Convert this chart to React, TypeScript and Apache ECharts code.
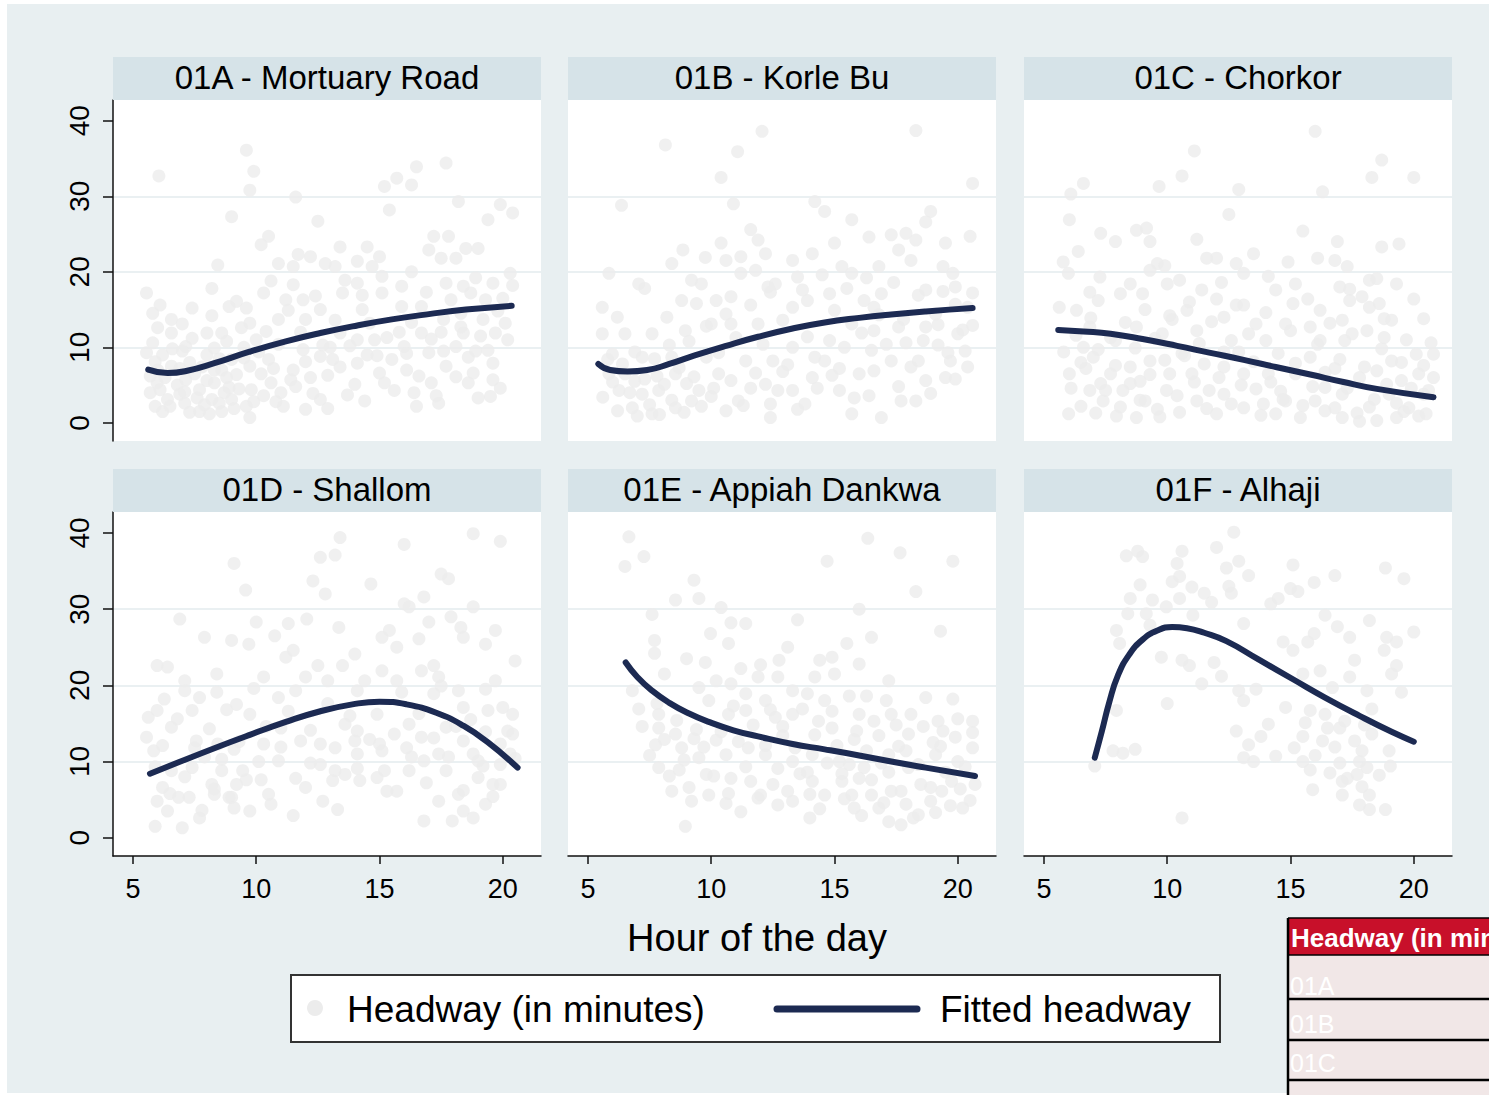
import React, { useEffect, useRef } from "react";
import * as echarts from "echarts";

const panelTitles = [
  "01A - Mortuary Road",
  "01B - Korle Bu",
  "01C - Chorkor",
  "01D - Shallom",
  "01E - Appiah Dankwa",
  "01F - Alhaji",
];
const xTicks = [5, 10, 15, 20];
const yTicks = [0, 10, 20, 30, 40];
const xAxisTitle = "Hour of the day";
const legendScatter = "Headway (in minutes)";
const legendLine = "Fitted headway";
const tableHeader = "Headway (in minutes)";
const tableRows = ["01A", "01B", "01C"];

const scatterA = [[6.05,32.7],[9.6,36.1],[9.9,33.3],[9.74,30.8],[9.0,27.3],[11.6,29.9],[12.5,26.7],[15.2,31.3],[15.7,32.4],[16.3,31.5],[16.5,33.9],[17.7,34.4],[15.4,28.2],[18.2,29.3],[19.4,26.9],[19.9,28.9],[20.4,27.8],[17.2,24.7],[17.8,24.7],[17.0,22.9],[17.5,21.8],[18.1,21.8],[18.5,23.1],[19.0,23.1],[20.3,19.8],[16.3,20.0],[13.4,23.3],[14.5,23.3],[15.0,22.0],[10.2,23.6],[10.5,24.7],[8.44,20.9],[8.2,17.8],[5.55,17.2],[6.1,15.6],[5.8,14.5],[6.56,13.7],[7.4,15.2],[8.9,15.4],[9.2,16.1],[10.9,21.1],[11.5,20.7],[12.2,22.0],[12.8,21.1],[13.2,20.7],[14.1,21.4],[14.7,20.7],[15.9,18.1],[17.7,18.5],[18.4,18.1],[19.6,18.5],[11.5,18.3],[11.9,16.3],[13.5,17.2],[14.1,18.5],[15.1,17.2],[16.7,15.4],[18.7,17.2],[19.3,16.3],[20.1,13.2],[19.7,11.9],[19.6,7.9],[19.6,5.7],[19.5,3.5],[19.0,3.3],[18.6,5.3],[17.4,2.6],[16.5,2.2],[15.2,5.3],[13.7,3.7],[12.6,3.1],[11.6,4.8],[11.0,4.0],[9.74,0.7],[8.6,1.5],[7.7,1.5],[6.2,1.5],[5.7,4.0],[5.55,9.3],[5.8,10.6],[6.56,11.9],[8.0,11.9],[8.6,11.9],[7.14,10.1],[7.7,4.4],[8.3,5.3],[9.0,3.1],[9.74,7.5],[10.5,8.4],[10.6,5.3],[11.9,9.7],[12.6,8.8],[13.1,8.4],[14.1,7.9],[14.8,11.0],[15.5,8.4],[16.1,7.0],[17.0,9.3],[17.7,7.5],[18.1,10.1],[18.4,11.9],[19.1,11.5],[18.8,6.6],[17.1,5.3],[16.4,4.0],[14.1,11.0],[13.4,11.9],[12.0,13.7],[10.9,13.7],[9.74,13.2],[10.0,11.0],[9.0,8.4],[8.3,7.0],[7.14,5.7],[6.4,3.1],[7.1,2.6],[8.2,3.1],[5.98,5.3],[6.56,7.5],[15.0,6.6],[16.0,10.1],[16.7,11.9],[17.6,13.7],[18.3,14.5],[14.3,15.0],[12.6,15.0],[11.2,16.3],[10.3,17.2],[6.8,5.0],[7.5,6.5],[8.8,6.0],[9.3,4.5],[6.2,9.0],[7.0,9.5],[8.0,9.0],[9.5,10.0],[10.2,6.5],[11.5,7.0],[12.2,6.0],[13.0,10.0],[14.5,9.0],[15.8,12.0],[17.5,12.0],[18.9,9.5],[20.0,16.5],[6.0,7.0],[6.9,3.8],[7.9,2.4],[8.7,4.0],[9.6,2.2],[5.9,2.2],[7.3,8.0],[8.5,8.5],[10.8,2.8],[12.0,1.8],
[5.7,6.2],[5.9,8.1],[6.1,4.4],[6.3,6.0],[6.5,2.2],[6.6,9.8],[6.9,7.2],[7.1,4.1],[7.3,1.4],[7.4,11.2],[7.6,3.3],[7.8,7.4],[8.0,5.6],[8.1,1.2],[8.3,9.9],[8.5,2.6],[8.6,7.0],[8.8,10.8],[8.9,4.7],[9.1,1.9],[9.2,6.4],[9.4,12.6],[9.5,8.6],[9.8,4.4],[9.9,2.8],[10.1,9.4],[10.3,3.6],[10.4,12.1],[10.7,7.2],[10.9,10.4],[11.1,2.2],[11.3,14.9],[11.4,5.7],[11.8,12.0],[12.0,8.1],[12.3,3.9],[12.4,16.8],[12.7,10.3],[12.9,6.3],[13.2,13.6],[13.4,7.4],[13.6,18.9],[13.8,10.2],[14.0,5.1],[14.3,16.9],[14.6,13.2],[14.9,8.9],[15.1,19.4],[15.3,11.3],[15.6,4.3],[15.9,15.4],[16.1,9.2],[16.3,13.3],[16.6,6.2],[16.9,17.3],[17.1,11.1],[17.3,3.6],[17.6,9.5],[17.9,16.3],[18.1,6.1],[18.3,12.7],[18.6,8.7],[18.9,19.2],[19.2,13.7],[19.4,9.6],[19.8,14.8],[20.2,11.0],[20.4,18.2],[19.9,4.6],[14.4,2.9],[12.9,1.9],[6.0,12.6],[7.0,13.1],[8.2,14.2],[9.6,15.2],[10.6,18.8],[11.7,22.3]];

const scatterB = [[12.06,38.6],[18.3,38.7],[8.14,36.8],[11.07,35.9],[10.4,32.5],[20.6,31.7],[6.36,28.8],[10.9,29.0],[14.2,29.3],[14.6,28.0],[15.7,26.9],[18.9,28.0],[18.7,26.6],[11.6,25.6],[15.0,23.8],[16.4,24.6],[17.3,24.9],[17.9,25.1],[18.3,24.2],[19.5,23.8],[20.5,24.7],[11.9,24.2],[10.4,23.8],[8.85,22.9],[9.76,21.9],[10.6,21.5],[11.2,22.0],[12.2,22.4],[13.3,21.5],[14.1,22.4],[8.4,21.1],[5.85,19.8],[7.06,18.4],[7.3,17.8],[9.2,18.9],[9.6,18.4],[11.2,19.8],[11.8,20.2],[12.6,18.4],[13.5,19.3],[15.3,20.7],[15.7,19.8],[16.8,20.7],[17.6,22.9],[18.1,21.5],[19.4,20.7],[19.8,19.8],[19.9,18.0],[18.7,17.6],[16.9,17.1],[16.2,16.2],[14.8,17.1],[13.9,16.2],[12.3,18.0],[8.8,16.2],[9.4,15.8],[10.2,16.2],[10.8,16.7],[5.58,15.3],[6.19,14.0],[8.2,14.0],[5.58,11.8],[6.5,11.8],[7.6,11.8],[8.95,12.2],[10.0,13.1],[10.8,13.1],[11.9,13.1],[13.3,15.3],[15.7,13.1],[16.6,12.2],[17.6,12.7],[18.7,12.7],[20.6,12.9],[20.0,11.8],[5.99,9.1],[5.85,6.5],[6.26,4.3],[6.8,2.0],[7.6,1.2],[8.55,2.0],[9.2,2.9],[10.6,1.6],[11.1,2.9],[12.4,0.7],[12.4,2.5],[12.2,5.1],[13.3,4.3],[13.8,2.5],[14.1,6.0],[14.2,8.7],[15.2,4.3],[15.7,1.2],[16.0,6.5],[16.9,0.7],[17.7,2.9],[18.3,2.9],[18.7,5.6],[19.5,6.0],[19.9,5.8],[19.7,8.2],[18.4,8.2],[17.3,8.2],[16.5,9.6],[15.4,10.0],[14.6,8.2],[13.3,10.0],[12.5,8.2],[11.4,8.2],[10.3,6.5],[9.5,4.3],[8.55,6.5],[7.87,4.3],[7.2,3.8],[6.5,6.5],[9.8,8.7],[8.4,8.7],[7.2,8.7],[19.1,14.4],[20.4,15.3],[16.6,15.3],[6.9,5.5],[7.8,6.2],[9.0,5.2],[10.0,3.5],[11.6,4.6],[12.9,6.8],[14.9,6.3],[16.4,3.6],[17.9,10.6],[19.2,10.3],[20.3,9.5],
[5.6,3.4],[5.8,8.4],[6.0,5.4],[6.2,1.6],[6.4,7.8],[6.7,4.0],[6.9,9.4],[7.0,0.9],[7.3,5.8],[7.5,2.4],[7.7,8.5],[7.9,1.1],[8.1,5.1],[8.3,10.3],[8.4,3.0],[8.7,7.3],[8.9,1.4],[9.1,10.8],[9.3,6.1],[9.6,2.2],[9.8,12.8],[10.1,4.6],[10.3,9.3],[10.6,14.4],[10.8,5.6],[11.0,11.3],[11.3,2.3],[11.6,15.6],[11.8,6.6],[12.1,10.4],[12.4,17.3],[12.7,4.3],[12.9,13.6],[13.1,7.7],[13.5,1.8],[13.7,17.6],[13.9,11.4],[14.3,4.6],[14.5,19.6],[14.8,10.9],[15.0,14.9],[15.2,7.2],[15.5,17.8],[15.8,3.3],[16.1,11.9],[16.3,19.2],[16.6,6.9],[16.8,14.3],[17.1,10.4],[17.4,18.6],[17.6,4.8],[17.8,13.7],[18.1,7.4],[18.4,16.9],[18.6,10.9],[18.9,3.9],[19.2,13.0],[19.4,17.4],[19.6,9.3],[19.9,15.7],[20.2,12.3],[20.4,7.4],[20.6,17.2]];

const scatterC = [[16.0,38.6],[11.1,36.0],[18.7,34.8],[18.3,32.5],[20.0,32.5],[10.6,32.7],[9.67,31.3],[12.9,30.9],[16.3,30.6],[6.09,30.3],[6.6,31.7],[6.03,26.9],[12.5,27.6],[15.5,25.4],[11.2,24.3],[7.3,25.1],[7.9,24.0],[8.75,25.5],[9.16,25.8],[9.3,24.0],[6.39,22.7],[5.78,21.3],[5.99,19.8],[7.27,19.3],[9.3,20.2],[9.6,21.1],[11.6,21.8],[12.0,21.8],[12.8,21.1],[13.1,19.8],[13.5,22.4],[14.9,21.3],[16.1,21.8],[16.9,24.0],[16.8,21.5],[17.3,20.7],[18.7,23.3],[19.4,23.7],[18.2,18.9],[18.5,19.1],[19.3,18.4],[17.0,18.0],[6.86,17.3],[8.1,17.1],[8.5,18.4],[9.0,17.1],[10.0,18.4],[10.5,18.9],[11.4,17.6],[5.62,15.3],[6.32,14.9],[7.2,16.2],[10.1,14.2],[10.8,14.9],[12.0,16.4],[13.1,15.6],[14.4,17.6],[15.1,15.8],[15.2,18.4],[16.2,14.9],[17.4,16.2],[17.9,16.7],[18.6,15.8],[20.0,16.4],[20.4,13.8],[18.8,13.8],[18.1,12.2],[17.1,13.6],[15.8,12.7],[14.8,13.1],[13.6,13.1],[12.3,14.0],[11.2,12.2],[8.75,12.7],[6.86,12.7],[6.03,6.5],[6.0,1.2],[6.86,4.3],[7.94,0.9],[8.75,0.7],[9.1,2.9],[9.6,1.8],[10.5,1.4],[11.2,2.9],[12.0,1.2],[12.3,3.8],[13.1,2.0],[13.6,4.5],[14.4,1.2],[14.8,2.9],[15.4,0.7],[16.4,1.6],[17.1,0.7],[17.8,0.2],[18.5,0.3],[19.3,0.7],[19.8,2.0],[20.4,3.8],[20.8,6.0],[20.2,6.5],[20.1,9.1],[20.8,9.1],[19.1,8.2],[18.5,6.9],[17.8,6.0],[17.1,3.8],[16.4,4.7],[15.8,8.7],[15.2,6.5],[14.1,6.5],[13.1,6.5],[12.3,7.4],[11.5,7.8],[11.0,6.5],[10.1,6.5],[9.3,8.2],[8.5,7.4],[7.7,6.5],[7.0,8.7],[6.6,10.0],[7.4,2.9],[8.2,4.3],[9.97,4.3],[11.7,4.3],[13.9,2.5],[16.0,2.9],[19.0,3.8],[19.5,5.6],[17.2,10.9],[16.2,10.9],[18.8,11.3],[14.0,10.9],[12.6,10.9],[9.8,11.8],[7.9,10.9],[6.5,8.0],[7.3,5.2],[8.9,5.5],[10.7,8.9],[12.9,9.4],[14.6,4.2],[16.8,7.2],[18.2,2.1],[19.6,1.5],[20.5,1.2],
[5.8,9.4],[6.1,4.6],[6.3,11.6],[6.5,2.2],[6.7,7.2],[6.9,13.9],[7.1,1.3],[7.2,9.7],[7.5,4.3],[7.7,11.3],[7.9,7.6],[8.1,2.1],[8.3,13.3],[8.5,5.2],[8.7,9.9],[8.9,3.0],[9.1,15.0],[9.3,6.4],[9.5,11.2],[9.7,0.8],[9.9,8.3],[10.2,13.7],[10.4,3.6],[10.6,9.2],[10.9,16.0],[11.1,5.4],[11.3,10.5],[11.6,1.9],[11.8,13.4],[12.1,6.0],[12.3,9.4],[12.6,2.5],[12.8,15.6],[13.0,5.0],[13.3,11.8],[13.5,8.1],[13.8,1.0],[14.0,14.6],[14.2,5.4],[14.5,9.2],[14.7,3.1],[15.0,12.2],[15.2,7.9],[15.5,2.3],[15.7,16.4],[15.9,4.8],[16.1,10.4],[16.4,6.7],[16.6,13.2],[16.8,2.0],[17.0,8.4],[17.3,4.6],[17.5,11.8],[17.7,1.3],[18.0,7.4],[18.2,15.3],[18.4,3.1],[18.7,9.8],[18.9,5.1],[19.1,13.6],[19.3,2.6],[19.5,8.0],[19.7,11.0],[19.9,4.6],[20.2,0.9],[20.4,7.6],[20.6,4.3],[20.7,10.6],[17.4,17.7],[12.2,18.6],[9.9,20.8],[14.1,19.4]];

const scatterD = [[13.4,39.4],[18.8,39.9],[19.9,38.9],[16.0,38.5],[12.6,36.8],[13.2,37.1],[9.1,36.0],[9.57,32.5],[12.3,33.7],[14.65,33.3],[12.8,32.0],[17.5,34.6],[17.8,34.0],[16.8,31.6],[16.0,30.7],[16.2,30.3],[18.8,30.3],[6.9,28.7],[10.0,28.3],[17.0,28.3],[17.9,29.0],[18.3,27.6],[13.35,27.6],[11.3,28.1],[12.05,28.7],[7.9,26.3],[9.0,25.9],[9.7,25.4],[10.75,26.5],[15.4,27.2],[15.1,26.3],[15.7,25.0],[16.6,26.1],[18.4,26.3],[19.3,25.4],[19.7,27.2],[14.0,24.1],[11.5,24.6],[5.98,22.6],[6.4,22.4],[7.1,20.6],[8.4,21.5],[10.3,21.1],[11.2,23.7],[12.5,22.6],[12.9,20.6],[15.1,21.9],[15.7,20.6],[16.7,21.9],[17.4,21.1],[17.2,22.6],[18.2,19.3],[19.7,20.6],[20.5,23.2],[19.3,19.5],[6.27,18.2],[7.1,19.3],[7.7,18.4],[8.4,19.1],[9.2,17.5],[10.9,18.4],[11.6,19.3],[14.1,19.3],[17.2,18.9],[18.4,17.1],[19.4,16.7],[20.0,17.1],[20.4,16.2],[5.62,15.8],[5.98,16.7],[7.4,16.7],[9.74,16.2],[13.6,14.9],[14.1,14.0],[16.2,14.9],[17.7,14.5],[20.4,13.6],[5.55,13.2],[6.56,14.5],[7.57,12.7],[8.44,12.3],[10.3,12.3],[11.8,12.7],[12.6,12.3],[14.0,12.7],[15.0,12.3],[16.1,11.8],[16.7,13.2],[18.4,12.7],[19.9,12.3],[5.84,11.4],[10.9,10.1],[14.1,11.0],[15.1,11.4],[17.4,11.0],[18.8,11.0],[6.56,8.8],[7.4,9.2],[8.6,8.8],[9.45,8.8],[13.2,8.8],[13.6,8.3],[15.2,8.8],[16.2,8.8],[17.7,8.8],[14.2,7.5],[14.9,7.9],[19.0,7.9],[13.1,7.5],[19.9,7.0],[5.98,4.8],[6.4,3.5],[6.85,5.3],[7.28,5.3],[7.7,2.6],[8.3,5.7],[9.0,5.3],[9.74,3.5],[10.5,5.7],[12.0,6.6],[12.7,4.8],[13.3,3.7],[11.5,2.9],[15.7,6.1],[16.8,2.2],[17.4,4.8],[17.95,2.2],[18.2,5.7],[18.4,3.5],[18.8,2.6],[19.6,7.0],[19.3,4.4],[5.9,1.5],[7.0,1.3],[8.9,5.3],[8.2,7.0],[9.2,7.0],[6.2,6.6],[7.9,10.6],[9.1,11.6],[10.2,7.6],[11.0,14.4],[12.2,9.8],[16.8,10.1],[19.2,9.4],[20.3,11.0],
[5.9,9.3],[6.2,12.1],[6.5,5.8],[6.8,15.6],[7.1,8.0],[7.5,11.8],[7.8,3.6],[8.1,14.3],[8.3,6.4],[8.6,10.3],[8.8,16.8],[9.1,3.9],[9.3,12.6],[9.6,7.6],[9.9,19.6],[10.1,10.0],[10.4,14.6],[10.6,4.4],[11.0,11.9],[11.3,16.6],[11.6,7.8],[12.0,21.1],[12.2,14.1],[12.6,9.6],[12.9,17.6],[13.2,11.8],[13.5,22.6],[13.8,16.0],[14.1,9.1],[14.4,20.6],[14.6,12.9],[14.9,16.2],[15.3,6.1],[15.6,13.6],[15.9,19.1],[16.3,10.6],[16.6,16.3],[16.9,7.2],[17.2,13.1],[17.5,19.9],[17.8,10.6],[18.1,14.6],[18.4,6.2],[18.7,15.5],[19.0,10.1],[19.3,13.9],[19.6,5.4],[19.9,9.6],[20.2,14.0],[20.5,10.4]];

const scatterE = [[6.66,39.5],[16.35,39.3],[7.27,36.9],[6.5,35.6],[14.7,36.3],[17.66,37.4],[19.8,36.3],[18.3,32.3],[9.3,33.8],[8.55,31.2],[9.5,31.4],[10.4,30.2],[7.6,29.3],[13.5,28.6],[16.0,30.0],[19.3,27.1],[10.8,28.2],[11.4,28.1],[9.97,26.8],[10.7,25.5],[16.5,26.3],[7.7,25.9],[7.7,24.2],[15.5,25.5],[13.1,25.0],[9.0,23.5],[9.76,23.0],[12.0,22.7],[11.2,22.2],[12.75,23.3],[14.4,23.3],[14.9,23.7],[16.0,22.8],[8.1,21.5],[10.2,20.6],[10.8,20.2],[11.9,21.1],[12.7,21.1],[14.2,21.1],[15.0,21.5],[17.2,20.6],[6.8,19.3],[9.5,19.7],[11.4,18.9],[12.2,18.0],[13.3,19.3],[13.9,18.9],[14.6,18.0],[15.6,18.6],[16.3,18.6],[17.1,18.0],[18.7,18.4],[19.8,18.2],[7.06,16.9],[7.87,14.4],[8.55,13.6],[10.7,16.2],[11.4,16.7],[12.6,15.8],[13.3,16.2],[14.35,15.3],[14.9,14.4],[16.0,16.2],[16.6,15.3],[17.3,16.2],[18.1,16.2],[19.2,15.3],[20.0,15.6],[20.6,13.8],[19.4,14.0],[18.0,13.6],[7.74,12.2],[8.8,11.8],[9.5,10.5],[10.6,10.9],[11.5,11.8],[12.2,10.9],[13.3,10.0],[14.1,10.9],[15.2,10.0],[16.2,9.2],[17.2,10.9],[18.0,9.2],[19.1,10.9],[20.6,11.8],[20.7,7.0],[20.0,10.0],[7.87,9.2],[8.7,8.9],[8.4,6.1],[9.2,4.8],[9.9,5.6],[10.6,4.5],[11.2,3.4],[8.95,1.5],[10.8,7.8],[11.6,7.4],[12.5,7.0],[13.3,4.8],[14.0,2.6],[14.6,5.6],[15.3,7.4],[15.8,3.9],[16.5,5.6],[17.2,2.1],[17.7,1.7],[18.4,3.0],[18.9,4.8],[19.35,6.1],[20.2,3.9],[19.75,7.4],[17.3,6.1],[16.8,3.9],[15.7,5.6],[14.1,7.4],[12.7,4.3],[7.87,16.2],[9.3,13.0],[10.2,12.8],[12.9,13.4],[15.8,12.9],[17.6,12.0],[19.0,12.5],[18.5,7.0],[17.9,4.4],[16.0,7.8],[13.6,8.4],[12.0,5.6],[9.8,8.3],
[7.2,14.6],[7.5,10.8],[7.8,17.6],[8.1,12.9],[8.3,8.1],[8.6,15.4],[8.9,10.2],[9.1,6.6],[9.4,14.2],[9.7,11.9],[9.9,18.0],[10.1,8.1],[10.4,13.9],[10.7,5.8],[10.9,17.3],[11.1,12.6],[11.4,9.3],[11.7,14.8],[11.9,5.2],[12.2,12.1],[12.4,16.8],[12.7,9.1],[12.9,14.6],[13.1,6.1],[13.4,11.8],[13.7,16.9],[13.9,8.6],[14.2,13.5],[14.4,3.8],[14.7,9.8],[14.9,16.6],[15.1,12.1],[15.4,5.1],[15.6,9.6],[15.9,14.0],[16.1,2.9],[16.3,11.4],[16.5,7.6],[16.8,13.4],[17.0,4.6],[17.2,8.6],[17.5,14.8],[17.7,6.1],[17.9,11.4],[18.2,2.6],[18.4,9.6],[18.6,14.6],[18.9,6.6],[19.1,3.3],[19.3,12.0],[19.5,8.6],[19.7,4.2],[19.9,13.2],[20.1,6.4],[20.3,9.3],[20.5,4.9],[20.6,15.3],[16.9,9.8],[15.3,8.4],[14.0,5.7]];

const scatterF = [[12.7,40.1],[12.0,38.1],[8.34,37.0],[8.8,37.6],[9.0,36.9],[10.6,37.6],[10.4,36.0],[12.9,36.3],[12.4,35.4],[13.3,34.4],[15.1,35.8],[16.8,34.4],[18.85,35.4],[19.6,34.0],[10.5,34.3],[11.0,32.9],[11.5,32.1],[12.5,33.0],[12.6,32.1],[15.0,32.7],[15.3,32.3],[15.96,33.5],[8.5,31.4],[9.4,31.2],[10.5,31.4],[14.5,31.4],[14.2,30.7],[9.96,30.3],[8.4,29.4],[9.15,29.4],[11.04,29.2],[16.4,29.2],[18.2,28.5],[7.94,27.2],[13.1,28.1],[16.9,27.7],[17.4,26.3],[18.9,26.3],[20.0,27.0],[15.96,26.8],[15.7,25.7],[14.7,25.7],[8.07,25.5],[19.3,25.7],[18.8,24.6],[15.1,24.6],[9.76,23.7],[10.6,23.3],[10.9,22.6],[11.9,23.0],[17.6,23.3],[19.3,22.6],[16.2,21.9],[15.5,21.5],[19.1,21.5],[11.4,20.2],[17.4,21.1],[12.9,19.3],[13.6,19.5],[18.1,19.3],[19.5,19.1],[16.7,19.7],[10.0,17.6],[13.1,18.0],[14.8,17.1],[15.8,16.7],[16.4,16.2],[17.2,15.3],[18.3,16.9],[7.94,16.7],[15.6,15.1],[16.5,14.4],[17.0,14.4],[18.3,13.6],[12.8,14.0],[13.8,13.3],[13.3,12.2],[15.5,13.3],[16.3,12.7],[17.6,12.7],[17.9,11.4],[19.0,11.4],[7.8,11.4],[8.2,11.1],[8.7,11.6],[13.1,10.5],[13.5,10.0],[14.4,10.7],[15.15,11.8],[15.5,10.0],[15.8,8.9],[16.6,8.5],[17.0,9.8],[17.1,7.4],[17.8,10.0],[18.1,9.2],[17.7,8.3],[19.05,9.4],[17.9,6.7],[18.2,5.6],[17.1,5.6],[15.9,6.3],[17.8,4.3],[18.2,3.7],[18.85,3.7],[7.06,9.4],[10.6,2.6],
[16.0,10.8],[16.8,11.9],[17.3,7.8],[18.6,8.2],[18.0,14.8],[14.1,14.9],[12.2,21.2],[10.2,33.6],[11.8,30.9],[9.3,27.9],[8.9,33.2]];

const fitA = [[5.62,7.05],[6.4,6.6],[7.2,6.9],[8.3,7.9],[9.7,9.4],[11.2,10.8],[12.6,11.9],[14.1,12.9],[15.5,13.7],[17.0,14.4],[18.5,15.0],[20.36,15.5]];
const fitB = [[5.42,7.8],[5.9,7.0],[6.6,6.8],[7.4,7.0],[8.3,7.8],[9.3,8.9],[10.6,10.2],[11.9,11.4],[13.3,12.5],[14.6,13.3],[16.0,13.9],[17.3,14.35],[18.7,14.75],[20.6,15.2]];
const fitC = [[5.58,12.3],[6.6,12.1],[7.7,11.8],[9.0,11.1],[10.4,10.2],[11.7,9.3],[13.1,8.35],[14.4,7.4],[15.8,6.4],[17.1,5.45],[18.5,4.5],[20.8,3.4]];
const fitD = [[5.69,8.4],[6.85,9.9],[8.3,11.75],[9.74,13.5],[11.2,15.2],[12.6,16.6],[13.9,17.5],[15.0,17.85],[16.1,17.5],[17.3,16.4],[18.4,14.7],[19.4,12.5],[20.6,9.2]];
const fitE = [[6.53,23.0],[7.0,21.1],[7.6,19.3],[8.3,17.7],[9.1,16.3],[9.9,15.2],[10.9,14.1],[11.9,13.3],[13.3,12.3],[14.6,11.6],[16.0,10.8],[17.3,10.0],[18.7,9.2],[20.7,8.1]];
const fitF = [[7.06,10.5],[7.35,14.0],[7.65,17.8],[8.0,21.3],[8.45,24.0],[9.0,26.0],[9.6,27.2],[10.2,27.65],[10.8,27.5],[11.5,26.9],[12.4,25.8],[13.7,23.4],[15.1,20.8],[16.4,18.4],[17.8,16.0],[19.1,13.9],[20.0,12.6]];

const scatterSets = [scatterA, scatterB, scatterC, scatterD, scatterE, scatterF];
const fitSets = [fitA, fitB, fitC, fitD, fitE, fitF];

const FONT = "'Liberation Sans', Arial, sans-serif";
const BG = "#e8eff1";
const STRIP = "#d6e3e8";
const GRIDLINE = "#e3ebee";
const DOT = "#ececec";
const NAVY = "#1c2a52";
const AXIS = "#111111";

const colLeft = [113, 568, 1024];
const plotW = 428;
const rowStripTop = [57, 469];
const stripH = 43;
const rowPlotTop = [100, 512];
const rowPlotH = [341, 344];

export default function App() {
  const ref = useRef<HTMLDivElement>(null);
  useEffect(() => {
    if (!ref.current) return;
    const chart = echarts.init(ref.current, null, { renderer: "svg" });

    const grids: any[] = [];
    const xAxes: any[] = [];
    const yAxes: any[] = [];
    const series: any[] = [];
    const graphics: any[] = [];

    graphics.push({
      type: "rect",
      shape: { x: 7, y: 4, width: 1482, height: 1089 },
      style: { fill: BG },
      z: -10,
    });

    for (let i = 0; i < 6; i++) {
      const r = Math.floor(i / 3);
      const c = i % 3;
      grids.push({
        left: colLeft[c],
        top: rowPlotTop[r],
        width: plotW,
        height: rowPlotH[r],
        show: true,
        backgroundColor: "#ffffff",
        borderWidth: 0,
      });
      const bottom = r === 1;
      xAxes.push({
        gridIndex: i,
        type: "value",
        min: 4.19,
        max: 21.55,
        axisLine: { show: bottom, onZero: false, lineStyle: { color: AXIS, width: 1.5 } },
        axisTick: { show: bottom, length: 8, customValues: xTicks, lineStyle: { color: AXIS, width: 1.5 } },
        axisLabel: {
          show: bottom,
          customValues: xTicks,
          fontSize: 27,
          fontFamily: FONT,
          color: "#000",
          margin: 19,
        },
        splitLine: { show: false },
      });
      const left = c === 0;
      yAxes.push({
        gridIndex: i,
        type: "value",
        min: -2.4,
        max: 42.75,
        axisLine: { show: left, onZero: false, lineStyle: { color: AXIS, width: 1.5 } },
        axisTick: { show: left, length: 10, customValues: yTicks, lineStyle: { color: AXIS, width: 1.5 } },
        axisLabel: {
          show: left,
          customValues: yTicks,
          rotate: 90,
          fontSize: 28,
          fontFamily: FONT,
          color: "#000",
          margin: 20,
        },
        splitLine: {
          show: true,
          showMinLine: false,
          showMaxLine: false,
          lineStyle: { color: GRIDLINE, width: 1.5 },
        },
      });
      series.push({
        type: "scatter",
        name: legendScatter,
        xAxisIndex: i,
        yAxisIndex: i,
        data: scatterSets[i],
        symbol: "circle",
        symbolSize: 13,
        itemStyle: { color: DOT },
        clip: false,
        silent: true,
        z: 2,
      });
      series.push({
        type: "line",
        name: legendLine,
        xAxisIndex: i,
        yAxisIndex: i,
        data: fitSets[i],
        symbol: "none",
        showSymbol: false,
        smooth: 0.5,
        lineStyle: { color: NAVY, width: 6, cap: "round", join: "round" },
        clip: false,
        silent: true,
        z: 3,
      });
      graphics.push({
        type: "rect",
        shape: { x: colLeft[c], y: rowStripTop[r], width: plotW, height: stripH },
        style: { fill: STRIP },
        z: 1,
      });
      graphics.push({
        type: "text",
        x: colLeft[c] + plotW / 2,
        y: rowStripTop[r] + stripH / 2 - 1,
        style: {
          text: panelTitles[i],
          fill: "#000",
          font: `33px ${FONT}`,
          textAlign: "center",
          textVerticalAlign: "middle",
        },
        z: 2,
      });
    }

    // axis title
    graphics.push({
      type: "text",
      x: 757,
      y: 938,
      style: {
        text: xAxisTitle,
        fill: "#000",
        font: `38px ${FONT}`,
        textAlign: "center",
        textVerticalAlign: "middle",
      },
      z: 2,
    });

    // legend box
    graphics.push({
      type: "rect",
      shape: { x: 291, y: 975, width: 929, height: 67 },
      style: { fill: "#ffffff", stroke: "#333333", lineWidth: 2 },
      z: 1,
    });
    graphics.push({
      type: "circle",
      shape: { cx: 315, cy: 1008, r: 8 },
      style: { fill: DOT },
      z: 2,
    });
    graphics.push({
      type: "text",
      x: 347,
      y: 1009,
      style: {
        text: legendScatter,
        fill: "#000",
        font: `37px ${FONT}`,
        textAlign: "left",
        textVerticalAlign: "middle",
      },
      z: 2,
    });
    graphics.push({
      type: "line",
      shape: { x1: 777, y1: 1009, x2: 917, y2: 1009 },
      style: { stroke: NAVY, lineWidth: 7, lineCap: "round" },
      z: 2,
    });
    graphics.push({
      type: "text",
      x: 940,
      y: 1009,
      style: {
        text: legendLine,
        fill: "#000",
        font: `37px ${FONT}`,
        textAlign: "left",
        textVerticalAlign: "middle",
      },
      z: 2,
    });

    // table fragment (bottom right), cut by the picture's edge as in the reference
    const tX = 1288;
    const tW = 1489 - tX + 10;
    graphics.push({
      type: "rect",
      shape: { x: tX, y: 918, width: tW, height: 37 },
      style: { fill: "#c8102a" },
      z: 5,
    });
    const rowTops = [955, 999, 1040, 1080];
    const rowBots = [999, 1040, 1080, 1100];
    for (let k = 0; k < rowTops.length; k++) {
      graphics.push({
        type: "rect",
        shape: { x: tX, y: rowTops[k], width: tW, height: rowBots[k] - rowTops[k] },
        style: { fill: "#f1e7e7" },
        z: 5,
      });
    }
    const hLines = [918, 955, 999, 1040, 1080];
    hLines.forEach((yy, k) => {
      graphics.push({
        type: "line",
        shape: { x1: tX, y1: yy, x2: 1495, y2: yy },
        style: { stroke: "#000", lineWidth: k <= 1 ? 1.5 : 2.5 },
        z: 7,
      });
    });
    graphics.push({
      type: "line",
      shape: { x1: tX, y1: 918, x2: tX, y2: 1100 },
      style: { stroke: "#000", lineWidth: 2.5 },
      z: 7,
    });
    graphics.push({
      type: "text",
      x: tX + 3,
      y: 938,
      style: {
        text: tableHeader,
        fill: "#ffffff",
        font: `bold 26px ${FONT}`,
        textAlign: "left",
        textVerticalAlign: "middle",
      },
      z: 6,
    });
    const rowTextY = [986, 1024, 1063];
    tableRows.forEach((t, k) => {
      graphics.push({
        type: "text",
        x: tX + 2,
        y: rowTextY[k],
        style: {
          text: t,
          fill: "#ffffff",
          font: `25px ${FONT}`,
          textAlign: "left",
          textVerticalAlign: "middle",
        },
        z: 6,
      });
    });

    chart.setOption({
      animation: false,
      backgroundColor: "#ffffff",
      textStyle: { fontFamily: FONT },
      grid: grids,
      xAxis: xAxes,
      yAxis: yAxes,
      series,
      graphic: { elements: graphics },
    });

    return () => {
      chart.dispose();
    };
  }, []);

  return (
    <div
      ref={ref}
      style={{ position: "absolute", left: 0, top: 0, width: 1489, height: 1095 }}
    />
  );
}
